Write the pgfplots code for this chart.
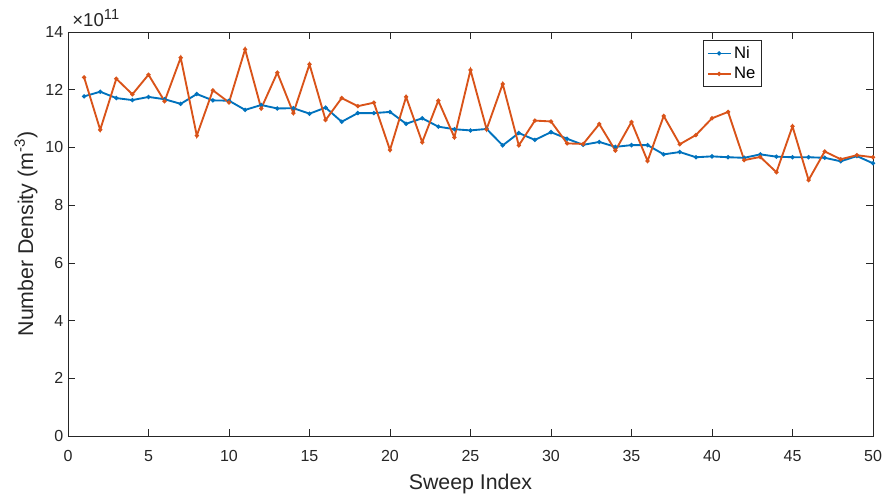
\documentclass[border=0pt]{standalone}
\usepackage{fontspec}
\setmainfont{Liberation Sans}
\usepackage{pgfplots}
\pgfplotsset{compat=1.18}
\definecolor{mblue}{rgb}{0,0.447,0.741}
\definecolor{morange}{rgb}{0.851,0.325,0.098}
\definecolor{axgray}{rgb}{0.15,0.15,0.15}
\begin{document}
\begin{tikzpicture}
\begin{axis}[
  scale only axis,
  width=603.75pt, height=303pt,
  xmin=0, xmax=50, ymin=0, ymax=14,
  xtick={0,5,...,50}, ytick={0,2,...,14},
  tick align=inside,
  major tick length=5pt,
  axis line style={axgray, line width=0.5pt},
  tick style={axgray, line width=0.5pt},
  ticklabel style={font=\fontsize{12}{14}\selectfont, text=axgray},
  xticklabel style={yshift=-7pt},
  /pgf/number format/assume math mode=true,
  label style={font=\fontsize{16}{19}\selectfont, text=axgray},
  xlabel={Sweep Index},
  ylabel={Number Density (m\textsuperscript{-3})},
  xlabel style={at={(axis description cs:0.5,0)}, anchor=center, yshift=-36pt},
  ylabel style={at={(axis description cs:0,0.5)}, anchor=center, yshift=31.5pt},
  legend style={at={(0.789,0.98)}, anchor=north west, draw=axgray, line width=0.5pt,
    font=\fontsize{12.5}{15}\selectfont, inner sep=2.5pt, row sep=1pt},
  legend cell align=left,
]
\addplot[mblue, line width=1.4pt, mark=*, mark size=0.8pt] coordinates {
(1,11.77)(2,11.93)(3,11.71)(4,11.64)(5,11.75)(6,11.67)(7,11.51)(8,11.85)(9,11.63)(10,11.62)
(11,11.30)(12,11.47)(13,11.35)(14,11.36)(15,11.17)(16,11.38)(17,10.89)(18,11.19)(19,11.19)(20,11.23)
(21,10.82)(22,11.01)(23,10.72)(24,10.63)(25,10.59)(26,10.64)(27,10.07)(28,10.50)(29,10.26)(30,10.53)
(31,10.30)(32,10.09)(33,10.19)(34,10.02)(35,10.08)(36,10.08)(37,9.76)(38,9.84)(39,9.66)(40,9.69)
(41,9.66)(42,9.64)(43,9.76)(44,9.68)(45,9.66)(46,9.66)(47,9.64)(48,9.52)(49,9.70)(50,9.45)
};
\addlegendentry{Ni}
\addplot[morange, line width=1.4pt, mark=*, mark size=0.8pt] coordinates {
(1,12.43)(2,10.61)(3,12.38)(4,11.84)(5,12.52)(6,11.60)(7,13.11)(8,10.41)(9,11.98)(10,11.56)
(11,13.40)(12,11.35)(13,12.59)(14,11.19)(15,12.88)(16,10.95)(17,11.71)(18,11.43)(19,11.55)(20,9.91)
(21,11.75)(22,10.18)(23,11.62)(24,10.35)(25,12.68)(26,10.63)(27,12.20)(28,10.07)(29,10.93)(30,10.90)
(31,10.14)(32,10.12)(33,10.81)(34,9.89)(35,10.88)(36,9.53)(37,11.09)(38,10.11)(39,10.43)(40,11.01)
(41,11.23)(42,9.56)(43,9.67)(44,9.14)(45,10.73)(46,8.87)(47,9.86)(48,9.59)(49,9.73)(50,9.66)
};
\addlegendentry{Ne}
\end{axis}
\node[anchor=base west, font=\fontsize{14}{16}\selectfont, text=axgray, inner sep=0pt, yshift=4pt, xshift=3pt]
  at (current axis.north west) {\texttimes10\raisebox{0.75ex}{\fontsize{11}{12}\selectfont 11}};
\pgfresetboundingbox
\useasboundingbox ([shift={(-51pt,-47.25pt)}]current axis.south west) rectangle ([shift={(11.25pt,24pt)}]current axis.north east);
\end{tikzpicture}
\end{document}
